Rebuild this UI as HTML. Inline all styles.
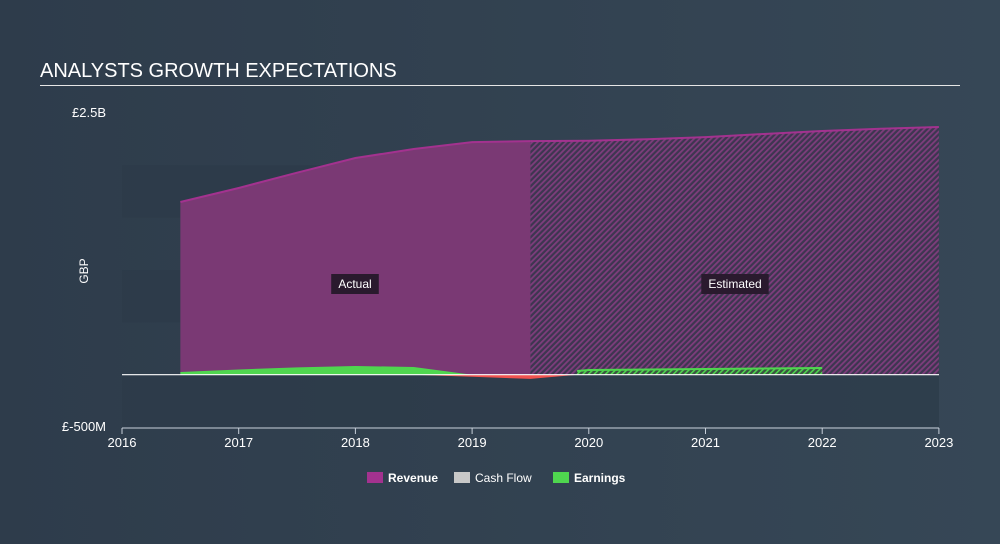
<!DOCTYPE html>
<html><head><meta charset="utf-8"><style>
html,body{margin:0;padding:0}
body{width:1000px;height:544px;background:linear-gradient(90deg,#2e3c4b,#364756);font-family:"Liberation Sans",sans-serif;overflow:hidden;position:relative}
.title{position:absolute;left:40px;top:60px;color:#fff;font-size:20px}
.rule{position:absolute;left:40px;top:85px;width:920px;height:1px;background:#e6e6e6}
</style></head><body>
<div class="title">ANALYSTS GROWTH EXPECTATIONS</div>
<div class="rule"></div>
<svg id="c" width="1000" height="544" style="position:absolute;left:0;top:0">
<defs>
<pattern id="hatch" width="4" height="4" patternUnits="userSpaceOnUse" patternTransform="rotate(45)">
<rect width="4" height="4" fill="#3d3650"/><rect width="1.8" height="4" fill="#7e3d7c"/></pattern>
<pattern id="hatchG" width="4" height="4" patternUnits="userSpaceOnUse" patternTransform="rotate(45)">
<rect width="4" height="4" fill="#3a5540"/><rect width="1.6" height="4" fill="#4fd64f"/></pattern>
</defs>
</svg>
<script>
const revYears=[2016.5,2017,2017.5,2018,2018.5,2019,2019.5,2020,2020.5,2021,2021.5,2022,2022.5,2023];
const revVals=[1650,1784,1930,2070,2156,2222,2232,2235,2250,2270,2300,2328,2350,2366];
const earnYears=[2016.5,2017,2017.5,2018,2018.5,2019,2019.5];
const earnVals=[26,50,70,83,74,-20,-40];
const estEarnYears=[2019.5,2019.9,2020,2021,2022];
const estEarnVals=[-40,35,45,55,64];
const xTicks=[2016,2017,2018,2019,2020,2021,2022,2023];
const yTickLabels=["£2.5B","£-500M"];
const yTickVals=[2500,-500];
const splitYear=2019.5;
const NS="http://www.w3.org/2000/svg";
const svg=document.getElementById('c');
const x=v=>122+(v-2016)*116.7;
const y=v=>374.7-v*0.10467;
function mk(t,a){const e=document.createElementNS(NS,t);for(const k in a)e.setAttribute(k,a[k]);svg.appendChild(e);return e;}
[[2000,1500],[1000,500],[0,-500]].forEach((b,i)=>{
const r=mk('rect',{x:122,y:y(b[0]),width:817,height:y(b[1])-y(b[0]),fill:'#2c3a48',opacity:0.7});


});
function area(xs,vs,fill,name,stroke){
let d='M'+x(xs[0])+','+y(0);
xs.forEach((t,i)=>d+=' L'+x(t)+','+y(vs[i]));
d+=' L'+x(xs[xs.length-1])+','+y(0)+'Z';
const p=mk('path',{d:d,fill:fill});


if(stroke){let l='M'+xs.map((t,i)=>x(t)+','+y(vs[i])).join(' L');
const s=mk('path',{d:l,fill:'none',stroke:stroke,'stroke-width':2});

}
}
const ai=revYears.indexOf(splitYear);
area(revYears.slice(0,ai+1),revVals.slice(0,ai+1),'#7a3974','revenue-actual-area','#a3328f');
area(revYears.slice(ai),revVals.slice(ai),'url(#hatch)','revenue-estimated-area','#a3328f');
let pd='M'+x(earnYears[0])+','+y(0);
earnYears.forEach((t,i)=>pd+=' L'+x(t)+','+y(Math.max(0,earnVals[i])));
pd+=' L'+x(earnYears[earnYears.length-1])+','+y(0)+'Z';
const ep=mk('path',{d:pd,fill:'#4fd64f'});


let nd='M'+x(earnYears[0])+','+y(0);
earnYears.forEach((t,i)=>nd+=' L'+x(t)+','+y(Math.min(0,earnVals[i])));
nd+=' L'+x(estEarnYears[1])+','+y(0)+'Z';
const en=mk('path',{d:nd,fill:'#f0524f'});


area(estEarnYears.slice(1),estEarnVals.slice(1),'url(#hatchG)','earnings-estimated-area','#4fd64f');
const z=mk('line',{x1:122,x2:939,y1:y(0),y2:y(0),stroke:'#fff','stroke-width':1.2});


const ax=mk('line',{x1:122,x2:939,y1:428,y2:428,stroke:'#c8d0da','stroke-width':1});


xTicks.forEach(t=>{
const tk=mk('line',{x1:x(t),x2:x(t),y1:428,y2:434,stroke:'#c8d0da'});


const tx=mk('text',{x:x(t),y:447,fill:'#fff','font-size':13,'text-anchor':'middle'});
tx.textContent=t;


});
yTickLabels.forEach((l,i)=>{
const tx=mk('text',{x:106,y:y(yTickVals[i])+4,fill:'#fff','font-size':13,'text-anchor':'end'});
tx.textContent=l;


});
const yt=mk('text',{x:88,y:271,fill:'#fff','font-size':12,'text-anchor':'middle',transform:'rotate(-90 88 271)'});
yt.textContent='GBP';


function label(txt,cx,name){
const w=txt.length*6.6+8;
const r=mk('rect',{x:cx-w/2,y:274,width:w,height:20,fill:'#2a1a2e'});


const t=mk('text',{x:cx,y:288,fill:'#fff','font-size':12,'text-anchor':'middle'});
t.textContent=txt;


}
label('Actual',355,'actual-label');
label('Estimated',735,'estimated-label');
[['Revenue','#a3328f',367],['Cash Flow','#c8c8c8',454],['Earnings','#4fd64f',553]].forEach(l=>{
const r=mk('rect',{x:l[2],y:472,width:16,height:11,fill:l[1]});


const t=mk('text',{x:l[2]+21,y:482,fill:'#fff','font-size':12,'font-weight':l[0]=='Cash Flow'?'normal':'bold'});
t.textContent=l[0];


});
</script>
</body></html>
